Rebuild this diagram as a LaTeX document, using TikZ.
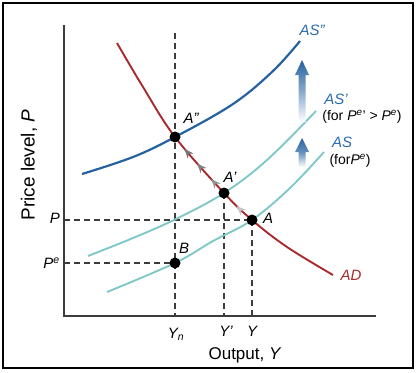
\documentclass[tikz,border=0pt]{standalone}
\usepackage{fontspec}
\setmainfont{Liberation Sans}
\usetikzlibrary{arrows.meta,decorations.markings}
\definecolor{adred}{RGB}{168,42,45}
\definecolor{asblue}{RGB}{38,98,160}
\definecolor{asteal}{RGB}{128,200,200}
\definecolor{lblblue}{RGB}{45,108,172}
\definecolor{axisgray}{RGB}{60,60,60}
\begin{document}
\begin{tikzpicture}[x=1pt,y=-1pt,
  curve/.style={line width=1.9pt},
  guide/.style={dash pattern=on 6pt off 4pt, line width=1.1pt, color=axisgray},
  dot/.style={circle, fill=black, inner sep=0pt, minimum size=11pt},
  lbl/.style={font=\fontsize{15}{17}\selectfont\itshape, inner sep=0pt},
  ax/.style={font=\fontsize{17}{20}\selectfont, inner sep=0pt},
  note/.style={font=\fontsize{14}{16}\selectfont, inner sep=0pt},
  chevron/.style={fill=#1, draw=#1, line width=0.3pt}
]
\useasboundingbox (0,0) rectangle (419,372);
\draw[line width=1.5pt] (3,3) rectangle (413,368);

% axes
\coordinate (O) at (64,316);
\coordinate (ytop) at (64,25);
\coordinate (xend) at (376,316);
\draw[line width=1.3pt, color=axisgray] (ytop) -- (O) -- (xend);

% key positions
\coordinate (cApp) at (175,137);
\coordinate (cAp) at (224,193);
\coordinate (cA) at (252,220);
\coordinate (cB) at (175,263);

% guide coordinates
\coordinate (ynTop) at (175,33);
\coordinate (yn) at (175,316);
\coordinate (ypr) at (224,316);
\coordinate (yy) at (252,316);
\coordinate (pp) at (64,220);
\coordinate (pe) at (64,263);

\draw[guide] (ynTop) -- (yn);
\draw[guide] (cAp) -- (ypr);
\draw[guide] (cA) -- (yy);
\draw[guide] (pp) -- (cA);
\draw[guide] (pe) -- (cB);

% curves
\draw[curve, asteal] plot[smooth, tension=0.6] coordinates {(107,292) (175,263) (213,241) (252,220) (290,188) (324,152)};
\draw[curve, asteal] plot[smooth, tension=0.6] coordinates {(88,256) (133,238) (176,219) (224,193) (267,160) (316,111)};
\draw[line width=2.2pt, asblue] plot[smooth, tension=0.6] coordinates {(82,174) (133,157) (175,137) (233,104) (273,71) (300,41)};
\draw[curve, adred, postaction={decorate, decoration={markings,
    mark=at position 0.405 with {\fill[chevron=black!55] (-4pt,0pt) -- (4.5pt,3.5pt) -- (1.5pt,0pt) -- (4.5pt,-3.5pt) -- cycle;},
    mark=at position 0.465 with {\fill[chevron=black!50] (-4pt,0pt) -- (4.5pt,3.5pt) -- (1.5pt,0pt) -- (4.5pt,-3.5pt) -- cycle;},
    mark=at position 0.53 with {\fill[chevron=black!42] (-4pt,0pt) -- (4.5pt,3.5pt) -- (1.5pt,0pt) -- (4.5pt,-3.5pt) -- cycle;},
    mark=at position 0.645 with {\fill[chevron=black!22] (-4pt,0pt) -- (4.5pt,3.5pt) -- (1.5pt,0pt) -- (4.5pt,-3.5pt) -- cycle;}}}]
  plot[smooth, tension=0.6] coordinates {(117,43) (143,87) (175,137) (224,193) (252,220) (287,247) (333,275)};

% dots
\node[dot] (App) at (cApp) {};
\node[dot] (Ap) at (cAp) {};
\node[dot] (A) at (cA) {};
\node[dot] (B) at (cB) {};

% shift arrows
\shade[top color=asblue, bottom color=white, middle color=asblue!55]
  (298.5,122) -- (298.5,75) -- (295,75) -- (302,60) -- (309,75) -- (305.5,75) -- (305.5,122) -- cycle;
\shade[top color=asblue, bottom color=white, middle color=asblue!70]
  (298.5,167) -- (298.5,152) -- (295,152) -- (302,138) -- (309,152) -- (305.5,152) -- (305.5,167) -- cycle;

% point labels
\node[lbl] (lApp) at (191,118) {A"};
\node[lbl] (lAp) at (230,177) {A'};
\node[lbl] (lA) at (268,218) {A};
\node[lbl] (lB) at (184,248) {B};

% curve labels
\node[lbl, color=lblblue] (lASpp) at (312,30) {AS"};
\node[lbl, color=lblblue] (lASp) at (336,99) {AS'};
\node[note] (nASp) at (362,117) {(for \textit{P}\textsuperscript{\textit{e}}' > \textit{P}\textsuperscript{\textit{e}})};
\node[lbl, color=lblblue] (lAS) at (342,142) {AS};
\node[note] (nAS) at (350,161) {(for\textit{P}\textsuperscript{\textit{e}})};
\node[lbl, color=adred] (lAD) at (351,275) {AD};

% axis tick labels
\node[lbl, anchor=east] (tP) at (60,218) {P};
\node[lbl, anchor=east] (tPe) at (60,263) {P\textsuperscript{e}};
\node[lbl] (tYn) at (176,334) {Y\textsubscript{n}};
\node[lbl] (tYp) at (226,331) {Y'};
\node[lbl] (tY) at (252,331) {Y};

% axis titles
\node[ax] (xlab) at (245,355) {Output, \textit{Y}};
\node[ax, font=\fontsize{19}{22}\selectfont, rotate=90] (ylab) at (29,165) {Price level, \textit{P}};
\end{tikzpicture}
\end{document}
